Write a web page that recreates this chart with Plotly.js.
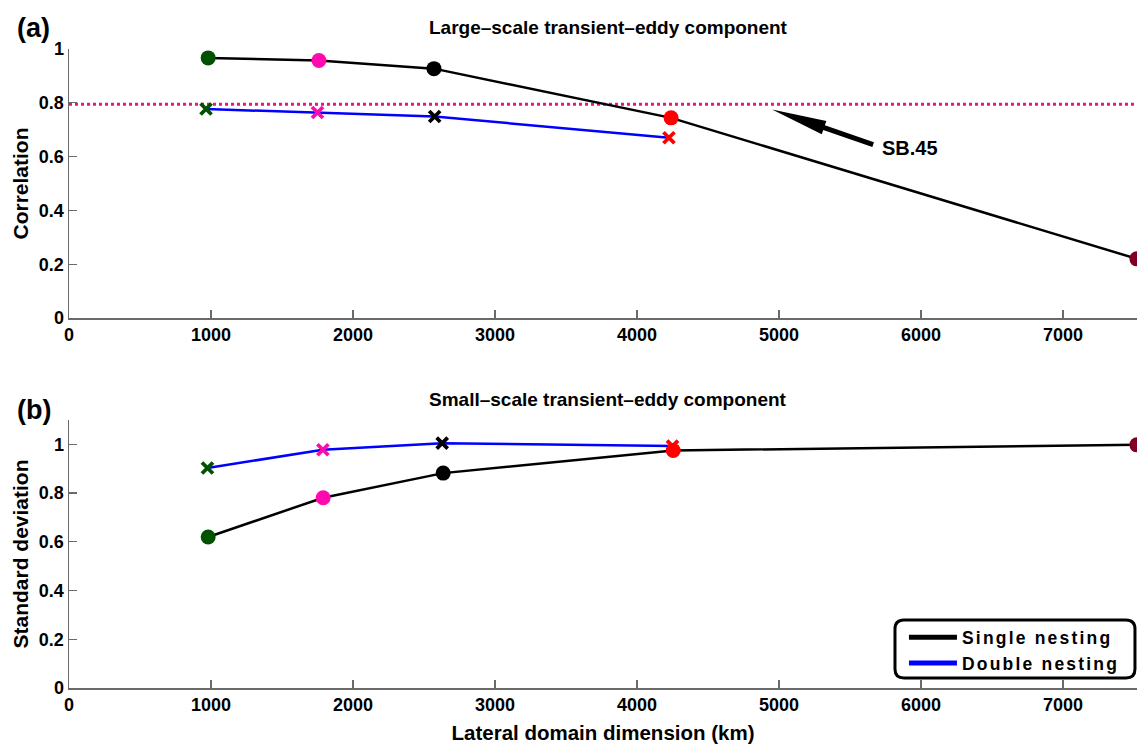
<!DOCTYPE html>
<html>
<head>
<meta charset="utf-8">
<script src="https://cdn.plot.ly/plotly-3.0.1.min.js"></script>
<style>
  html, body { margin: 0; padding: 0; background: #fff; }
  #chart { width: 1137px; height: 744px; }
  .legendtext { letter-spacing: 2.2px; }
</style>
</head>
<body>
<div id="chart"></div>
<script>
// ---- data ----
const panelTitles = ["Large\u2013scale transient\u2013eddy component", "Small\u2013scale transient\u2013eddy component"];
const seriesNames = ["Single nesting", "Double nesting"];

// (a) correlation
const xSingleA = [980, 1760, 2570, 4240, 7520];
const corrSingle = [0.967, 0.957, 0.927, 0.744, 0.220];
const xDoubleA = [965, 1750, 2575, 4225];
const corrDouble = [0.777, 0.764, 0.749, 0.670];
const sb45Level = 0.795;
const sb45Label = "SB.45";

// (b) standard deviation
const xSingleB = [980, 1790, 2635, 4255, 7520];
const sdSingle = [0.620, 0.781, 0.882, 0.975, 0.998];
const xDoubleB = [975, 1788, 2628, 4250];
const sdDouble = [0.903, 0.978, 1.005, 0.993];

// ---- styles ----
const pointColors = ["#005200", "#ff0aae", "#000000", "#ff0000", "#7e0024"];
const FONT = "Liberation Sans, Arial, Helvetica, sans-serif";

function singleTrace(x, y, xa, ya) {
  return {
    x: x, y: y, xaxis: xa, yaxis: ya, type: "scatter", mode: "lines+markers",
    line: {color: "#000", width: 2.5},
    marker: {symbol: "circle", size: 15, color: pointColors.slice(0, x.length), line: {width: 0}},
    showlegend: false, hoverinfo: "x+y"
  };
}
function doubleTrace(x, y, xa, ya) {
  const c = pointColors.slice(0, x.length);
  return {
    x: x, y: y, xaxis: xa, yaxis: ya, type: "scatter", mode: "lines+markers",
    line: {color: "#0000ff", width: 2.5},
    marker: {symbol: "x-thin-open", size: 11, color: c, line: {width: 3.8, color: c}},
    showlegend: false, hoverinfo: "x+y"
  };
}

const traces = [
  doubleTrace(xDoubleA, corrDouble, "x", "y"),
  singleTrace(xSingleA, corrSingle, "x", "y"),
  doubleTrace(xDoubleB, sdDouble, "x2", "y2"),
  singleTrace(xSingleB, sdSingle, "x2", "y2"),
  {x: [null], y: [null], xaxis: "x2", yaxis: "y2", type: "scatter", mode: "lines",
   name: seriesNames[0], line: {color: "#000", width: 5}, showlegend: true},
  {x: [null], y: [null], xaxis: "x2", yaxis: "y2", type: "scatter", mode: "lines",
   name: seriesNames[1], line: {color: "#0000ff", width: 5}, showlegend: true}
];

const axisLine = "#6a6a6a";
const xCommon = {
  range: [0, 7521], dtick: 1000, tick0: 0, showgrid: false, zeroline: false,
  showline: true, linecolor: axisLine, linewidth: 1.5,
  ticks: "inside", ticklen: 8, tickwidth: 1.2, tickcolor: axisLine,
  tickfont: {family: FONT, size: 18, weight: "bold", color: "#000"},
  mirror: false, fixedrange: true
};
const yCommon = {
  dtick: 0.2, tick0: 0, showgrid: false, zeroline: false,
  showline: true, linecolor: axisLine, linewidth: 1.5,
  ticks: "inside", ticklen: 8, tickwidth: 1.2, tickcolor: axisLine,
  tickfont: {family: FONT, size: 18, weight: "bold", color: "#000"},
  mirror: false, fixedrange: true
};

// rounded legend box (paper coords)
const bx0 = 0.7734, bx1 = 0.9981, byT = 0.1064, byB = 0.0157, rx = 0.0084, ry = 0.0141;
const boxPath = `M${bx0+rx},${byT} L${bx1-rx},${byT} Q${bx1},${byT} ${bx1},${byT-ry} L${bx1},${byB+ry} Q${bx1},${byB} ${bx1-rx},${byB} L${bx0+rx},${byB} Q${bx0},${byB} ${bx0},${byB+ry} L${bx0},${byT-ry} Q${bx0},${byT} ${bx0+rx},${byT} Z`;

const arrowTipX = 4951, arrowTipY = 0.775;

const layout = {
  width: 1137, height: 744,
  margin: {l: 69, r: 0, t: 49, b: 56, pad: 0},
  paper_bgcolor: "#fff", plot_bgcolor: "rgba(0,0,0,0)",
  font: {family: FONT, size: 18, weight: "bold", color: "#000"},
  xaxis: Object.assign({}, xCommon, {domain: [0, 1], anchor: "y"}),
  yaxis: Object.assign({}, yCommon, {domain: [0.579, 1], range: [0, 1], anchor: "x",
    title: {text: "Correlation", font: {family: FONT, size: 21, weight: "bold"}, standoff: 4}}),
  xaxis2: Object.assign({}, xCommon, {domain: [0, 1], anchor: "y2",
    title: {text: "Lateral domain dimension (km)", font: {family: FONT, size: 20.5, weight: "bold"}, standoff: 11}}),
  yaxis2: Object.assign({}, yCommon, {domain: [0, 0.4194], range: [0, 1.1], anchor: "x2",
    title: {text: "Standard deviation", font: {family: FONT, size: 21, weight: "bold"}, standoff: 4}}),
  showlegend: true,
  legend: {
    x: 0.7818, y: 0.1075, xanchor: "left", yanchor: "top",
    bgcolor: "rgba(0,0,0,0)", borderwidth: 0,
    font: {family: FONT, size: 17.5, weight: "bold", color: "#000"},
    itemwidth: 48, tracegroupgap: 0
  },
  shapes: [
    {type: "line", xref: "x", yref: "y", x0: 0, x1: 7521, y0: sb45Level, y1: sb45Level,
     line: {color: "#e8157f", width: 3, dash: "dot"}, layer: "below"},
    {type: "path", xref: "x", yref: "y", xsizemode: "pixel", ysizemode: "pixel",
     xanchor: arrowTipX, yanchor: arrowTipY,
     path: "M0,0 L54.3,-11.4 L52.8,-15.6 L101.9,-32.6 L100.3,-37.4 L51.2,-20.4 L49.7,-24.6 Z",
     fillcolor: "#000", line: {width: 0}, layer: "above"},
    {type: "path", xref: "paper", yref: "paper", path: boxPath,
     fillcolor: "#fff", line: {color: "#000", width: 3}, layer: "above"}
  ],
  annotations: [
    {text: panelTitles[0], xref: "paper", yref: "paper", x: 0.505, y: 1.033, showarrow: false,
     xanchor: "center", yanchor: "middle", font: {family: FONT, size: 19, weight: "bold"}},
    {text: panelTitles[1], xref: "paper", yref: "paper", x: 0.505, y: 0.452, showarrow: false,
     xanchor: "center", yanchor: "middle", font: {family: FONT, size: 19, weight: "bold"}},
    {text: "(a)", xref: "paper", yref: "paper", x: -0.033, y: 1.033, showarrow: false,
     xanchor: "center", yanchor: "middle", font: {family: FONT, size: 27, weight: "bold"}},
    {text: "(b)", xref: "paper", yref: "paper", x: -0.033, y: 0.435, showarrow: false,
     xanchor: "center", yanchor: "middle", font: {family: FONT, size: 27, weight: "bold"}},
    {text: sb45Label, xref: "x", yref: "y", x: arrowTipX, y: arrowTipY, showarrow: false,
     xanchor: "left", yanchor: "middle", xshift: 108, yshift: -38,
     font: {family: FONT, size: 20, weight: "bold"}}
  ]
};

Plotly.newPlot("chart", traces, layout, {displayModeBar: false, staticPlot: true});
</script>
</body>
</html>
